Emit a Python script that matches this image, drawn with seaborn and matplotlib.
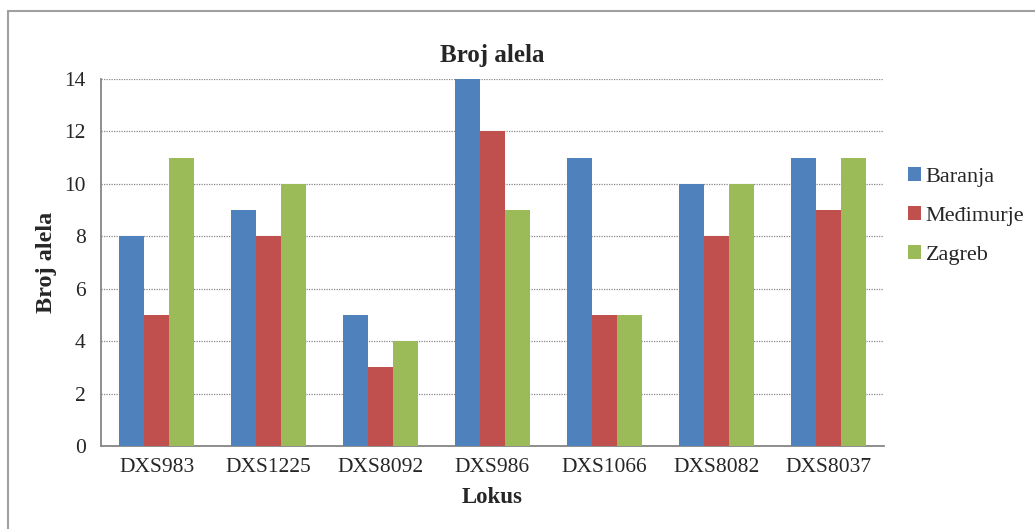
import numpy as np
import pandas as pd
import seaborn as sns
import matplotlib.pyplot as plt
from matplotlib.lines import Line2D

loci = ["DXS983", "DXS1225", "DXS8092", "DXS986", "DXS1066", "DXS8082", "DXS8037"]
regions = ["Baranja", "Međimurje", "Zagreb"]
baranja = [8, 9, 5, 14, 11, 10, 11]
medimurje = [5, 8, 3, 12, 5, 8, 9]
zagreb = [11, 10, 4, 9, 5, 10, 11]
colors = ["#4F81BD", "#C0504D", "#9BBB59"]

df = pd.DataFrame({
    "Lokus": loci * 3,
    "Regija": [regions[0]] * 7 + [regions[1]] * 7 + [regions[2]] * 7,
    "Broj": baranja + medimurje + zagreb,
})

sns.set_style("white")
plt.rcParams["font.family"] = ["Liberation Serif", "DejaVu Serif"]

fig = plt.figure(figsize=(10.35, 5.29), dpi=100)
ax = fig.add_axes([101 / 1035, 1 - 446 / 529, 783 / 1035, 367 / 529])

sns.barplot(data=df, x="Lokus", y="Broj", hue="Regija", palette=colors,
            width=0.67, saturation=1, ax=ax, zorder=3, edgecolor="none")

ax.set_ylim(0, 14)
ax.set_xlim(-0.5, len(loci) - 0.5)
ax.set_yticks(range(0, 15, 2))
ax.yaxis.grid(True, linestyle=(0, (1, 1)), color="#888888", linewidth=0.9, zorder=0)
ax.xaxis.grid(False)

for side in ["top", "right"]:
    ax.spines[side].set_visible(False)
for side in ["left", "bottom"]:
    ax.spines[side].set_color("#868686")
    ax.spines[side].set_linewidth(1.3)

ax.set_xticks(np.arange(-0.5, len(loci), 1), minor=True)
ax.tick_params(axis="x", which="major", length=0, labelsize=15.5, pad=9)
ax.tick_params(axis="x", which="minor", length=7, direction="inout",
               color="#868686", width=1.2)
ax.tick_params(axis="y", length=5, direction="out", color="#868686",
               width=1.2, labelsize=15.5, pad=6)

ax.set_title("Broj alela", fontsize=18, fontweight="bold", pad=12)
ax.set_xlabel("Lokus", fontsize=16.5, fontweight="bold", labelpad=7)
ax.set_ylabel("Broj alela", fontsize=17.5, fontweight="bold", labelpad=5)

ax.legend(loc="center left", bbox_to_anchor=(1.005, 0.627), frameon=False,
          fontsize=16, handlelength=0.6, handleheight=0.6, handletextpad=0.2,
          labelspacing=0.85)

# outer chart border (top and left only visible)
fig.add_artist(Line2D([7.5 / 1035, 7.5 / 1035], [0, 1 - 10.5 / 529],
                      transform=fig.transFigure, color="#A0A0A0", linewidth=1.5))
fig.add_artist(Line2D([7.5 / 1035, 1], [1 - 10.5 / 529, 1 - 10.5 / 529],
                      transform=fig.transFigure, color="#A0A0A0", linewidth=1.5))

fig.savefig("out.png", dpi=100)
